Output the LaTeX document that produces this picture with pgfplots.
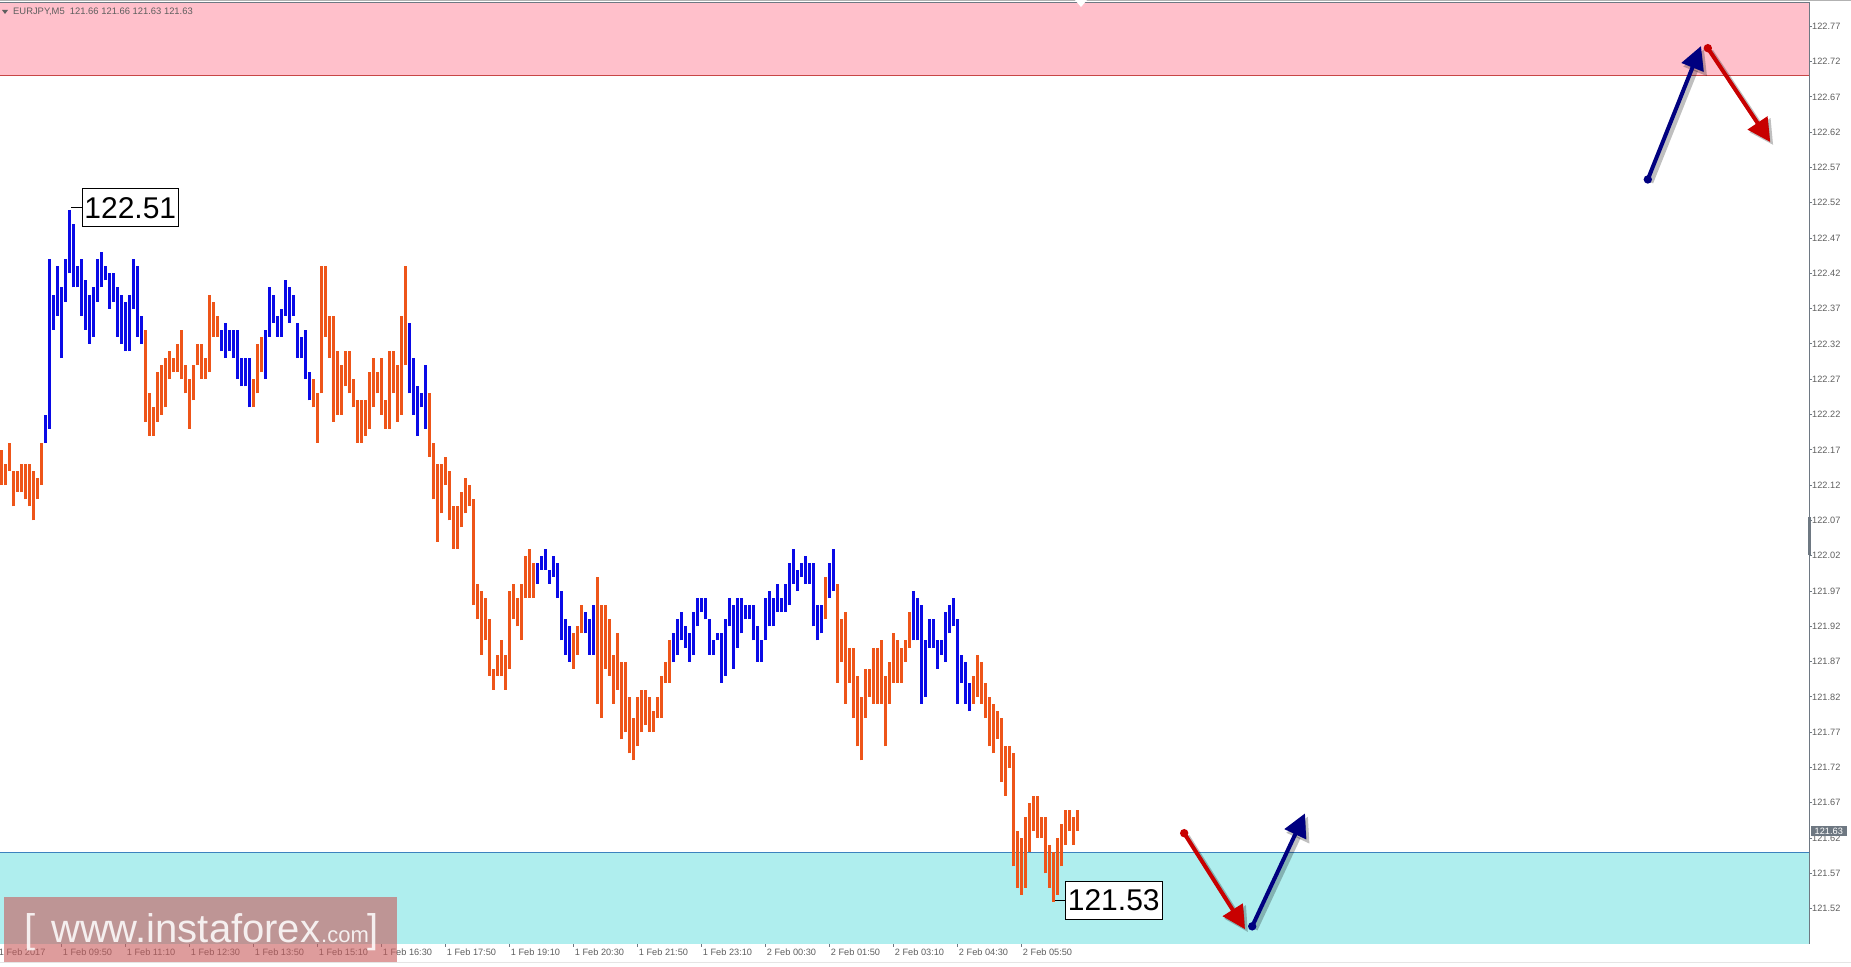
\documentclass[border=0pt]{standalone}
\usepackage{fontspec}
\setmainfont{Liberation Sans}
\usepackage{pgfplots}
\usepackage{pgfplotstable}
\pgfplotsset{compat=1.18}
\usetikzlibrary{arrows.meta}

\definecolor{barorange}{RGB}{238,85,25}
\definecolor{barblue}{RGB}{10,10,230}
\definecolor{zonepink}{RGB}{255,192,203}
\definecolor{zonecyan}{RGB}{175,238,238}
\definecolor{axisgray}{RGB}{110,120,130}
\definecolor{tickgray}{RGB}{95,95,95}
\definecolor{arrownavy}{RGB}{0,0,128}
\definecolor{arrowred}{RGB}{200,0,0}
\definecolor{wmred}{RGB}{200,90,90}
\definecolor{pinkline}{RGB}{200,70,70}
\definecolor{cyanline}{RGB}{60,130,190}

% bar index k (5-minute bars, k=-1 is 1 Feb 08:30), low, high
\pgfplotstableread{
k lo hi
0 122.12 122.17
1 122.12 122.15
2 122.14 122.18
3 122.09 122.14
4 122.11 122.14
5 122.11 122.15
6 122.10 122.15
7 122.09 122.15
8 122.07 122.14
9 122.10 122.13
10 122.12 122.18
36 122.21 122.34
37 122.19 122.25
38 122.19 122.23
39 122.21 122.28
40 122.22 122.29
41 122.23 122.30
42 122.27 122.31
43 122.28 122.30
44 122.28 122.32
45 122.27 122.34
46 122.25 122.29
47 122.20 122.27
48 122.24 122.29
49 122.29 122.32
50 122.27 122.32
51 122.27 122.30
52 122.28 122.39
53 122.33 122.38
54 122.33 122.36
63 122.23 122.27
64 122.25 122.32
65 122.28 122.33
78 122.23 122.27
79 122.18 122.25
80 122.25 122.43
81 122.33 122.43
82 122.30 122.36
83 122.21 122.36
84 122.22 122.31
85 122.22 122.29
86 122.26 122.31
87 122.25 122.31
88 122.23 122.27
89 122.18 122.24
90 122.18 122.24
91 122.19 122.24
92 122.20 122.28
93 122.23 122.30
94 122.25 122.28
95 122.22 122.30
96 122.20 122.24
97 122.20 122.31
98 122.25 122.31
99 122.21 122.29
100 122.22 122.36
101 122.29 122.43
107 122.16 122.25
108 122.10 122.18
109 122.04 122.15
110 122.08 122.15
111 122.12 122.16
112 122.07 122.14
113 122.03 122.09
114 122.03 122.09
115 122.06 122.11
116 122.08 122.13
117 122.09 122.12
118 121.95 122.10
119 121.93 121.98
120 121.88 121.97
121 121.90 121.96
122 121.85 121.93
123 121.83 121.86
124 121.85 121.88
125 121.85 121.90
126 121.83 121.88
127 121.86 121.97
128 121.93 121.98
129 121.92 121.96
130 121.90 121.98
131 121.96 122.02
132 121.96 122.03
133 121.96 122.01
143 121.86 121.91
144 121.88 121.92
145 121.91 121.95
149 121.81 121.99
150 121.79 121.95
151 121.86 121.95
152 121.85 121.93
153 121.81 121.88
154 121.83 121.91
155 121.76 121.87
156 121.77 121.87
157 121.74 121.82
158 121.73 121.79
159 121.75 121.82
160 121.77 121.83
161 121.78 121.83
162 121.77 121.82
163 121.77 121.80
164 121.79 121.82
165 121.79 121.85
166 121.84 121.87
167 121.84 121.90
206 121.93 121.99
209 121.84 121.98
210 121.87 121.93
211 121.81 121.94
212 121.84 121.89
213 121.79 121.89
214 121.75 121.85
215 121.73 121.82
216 121.79 121.86
217 121.82 121.86
218 121.81 121.89
219 121.81 121.89
220 121.81 121.90
221 121.75 121.85
222 121.81 121.87
223 121.84 121.91
224 121.84 121.90
225 121.84 121.89
226 121.87 121.90
227 121.89 121.94
243 121.81 121.85
244 121.82 121.88
245 121.81 121.87
246 121.79 121.84
247 121.75 121.82
248 121.74 121.81
249 121.76 121.80
250 121.70 121.79
251 121.68 121.75
252 121.72 121.75
253 121.58 121.74
254 121.55 121.63
255 121.54 121.62
256 121.55 121.65
257 121.60 121.67
258 121.63 121.68
259 121.62 121.68
260 121.62 121.65
261 121.57 121.65
262 121.55 121.61
263 121.53 121.60
264 121.54 121.62
265 121.58 121.64
266 121.61 121.66
267 121.63 121.66
268 121.61 121.65
269 121.63 121.66
}\orangebars

\pgfplotstableread{
k lo hi
11 122.18 122.22
12 122.20 122.44
13 122.34 122.39
14 122.36 122.43
15 122.30 122.40
16 122.38 122.44
17 122.42 122.51
18 122.40 122.49
19 122.40 122.43
20 122.36 122.44
21 122.34 122.41
22 122.32 122.39
23 122.33 122.40
24 122.38 122.44
25 122.40 122.45
26 122.41 122.43
27 122.37 122.42
28 122.38 122.42
29 122.33 122.40
30 122.32 122.39
31 122.31 122.38
32 122.31 122.39
33 122.37 122.44
34 122.33 122.43
35 122.32 122.36
55 122.31 122.34
56 122.30 122.35
57 122.31 122.34
58 122.30 122.34
59 122.27 122.34
60 122.26 122.30
61 122.26 122.30
62 122.23 122.30
66 122.27 122.34
67 122.33 122.40
68 122.35 122.39
69 122.33 122.36
70 122.33 122.37
71 122.36 122.41
72 122.35 122.40
73 122.36 122.39
74 122.30 122.35
75 122.30 122.33
76 122.27 122.34
77 122.24 122.28
102 122.25 122.35
103 122.22 122.30
104 122.19 122.26
105 122.23 122.25
106 122.20 122.29
134 121.98 122.01
135 122.00 122.02
136 122.00 122.03
137 121.98 122.00
138 121.99 122.02
139 121.96 122.01
140 121.90 121.97
141 121.88 121.93
142 121.87 121.92
146 121.91 121.94
147 121.88 121.93
148 121.88 121.95
168 121.87 121.91
169 121.88 121.93
170 121.90 121.94
171 121.89 121.92
172 121.87 121.91
173 121.88 121.94
174 121.92 121.96
175 121.94 121.96
176 121.93 121.96
177 121.88 121.93
178 121.88 121.90
179 121.90 121.91
180 121.84 121.91
181 121.85 121.93
182 121.92 121.96
183 121.86 121.95
184 121.89 121.96
185 121.91 121.96
186 121.93 121.95
187 121.93 121.95
188 121.90 121.95
189 121.87 121.92
190 121.87 121.90
191 121.90 121.96
192 121.92 121.97
193 121.92 121.96
194 121.94 121.98
195 121.94 121.96
196 121.94 121.98
197 121.95 122.01
198 121.98 122.03
199 121.97 122.00
200 121.99 122.01
201 121.98 122.02
202 121.98 122.01
203 121.92 122.01
204 121.90 121.95
205 121.91 121.95
207 121.96 122.01
208 121.97 122.03
228 121.90 121.97
229 121.90 121.96
230 121.81 121.95
231 121.82 121.90
232 121.89 121.93
233 121.89 121.93
234 121.86 121.90
235 121.88 121.90
236 121.87 121.94
237 121.91 121.95
238 121.92 121.96
239 121.81 121.93
240 121.84 121.88
241 121.81 121.87
242 121.80 121.84
}\bluebars

\begin{document}
\begin{tikzpicture}[x=1bp,y=1bp]
\useasboundingbox (0,0) rectangle (1851,966);
\fill[white] (0,0) rectangle (1851,966);

\begin{axis}[
  at={(0bp,22bp)}, anchor=south west,
  width=1809bp, height=941bp, scale only axis,
  xmin=-0.425, xmax=451.8, ymin=121.470, ymax=122.803,
  clip=false,
  axis x line*=bottom, axis y line*=right,
  axis line style={-, draw=axisgray, line width=1bp},
  tick align=outside, major tick length=3bp,
  tick style={draw=axisgray, line width=1bp},
  tick label style={font=\fontsize{9.2bp}{10bp}\selectfont, text=tickgray},
  ytick={121.52,121.57,121.62,121.67,121.72,121.77,121.82,121.87,121.92,121.97,122.02,122.07,122.12,122.17,122.22,122.27,122.32,122.37,122.42,122.47,122.52,122.57,122.62,122.67,122.72,122.77},
  yticklabels={121.52,121.57,121.62,121.67,121.72,121.77,121.82,121.87,121.92,121.97,122.02,122.07,122.12,122.17,122.22,122.27,122.32,122.37,122.42,122.47,122.52,122.57,122.62,122.67,122.72,122.77},
  yticklabel style={anchor=west, inner sep=0pt, xshift=0bp},
  xtick={15,31,47,63,79,95,111,127,143,159,175,191,207,223,239,255},
  xticklabels={1 Feb 09:50,1 Feb 11:10,1 Feb 12:30,1 Feb 13:50,1 Feb 15:10,1 Feb 16:30,1 Feb 17:50,1 Feb 19:10,1 Feb 20:30,1 Feb 21:50,1 Feb 23:10,2 Feb 00:30,2 Feb 01:50,2 Feb 03:10,2 Feb 04:30,2 Feb 05:50},
  xticklabel style={anchor=north west, inner sep=0pt, xshift=1bp, yshift=-2bp},
]
% target zones
\fill[zonepink] (axis cs:-0.425,122.70) rectangle (axis cs:451.8,122.803);
\draw[pinkline, line width=1bp] (axis cs:-0.425,122.70) -- (axis cs:451.8,122.70);
\fill[zonecyan] (axis cs:-0.425,121.470) rectangle (axis cs:451.8,121.60);
\draw[cyanline, line width=1bp] (axis cs:-0.425,121.60) -- (axis cs:451.8,121.60);

% price bars
\addplot[draw=none, mark=none, forget plot,
  error bars/.cd, y dir=plus, y explicit, error mark=none,
  error bar style={draw=barorange, line width=3bp}]
  table[x=k, y=lo, y error plus expr=\thisrow{hi}-\thisrow{lo}] {\orangebars};
\addplot[draw=none, mark=none, forget plot,
  error bars/.cd, y dir=plus, y explicit, error mark=none,
  error bar style={draw=barblue, line width=3bp}]
  table[x=k, y=lo, y error plus expr=\thisrow{hi}-\thisrow{lo}] {\bluebars};

% extreme labels
\draw[black, line width=0.8bp] (axis cs:17.4,122.513) -- (axis cs:20.08,122.513);
\node[draw=black, line width=0.8bp, fill=white, anchor=west, inner xsep=2bp, inner ysep=0pt,
  minimum height=38bp, font=\fontsize{30bp}{32bp}\selectfont] at (axis cs:20.08,122.513) {122.51};
\draw[black, line width=0.8bp] (axis cs:263.4,121.532) -- (axis cs:265.8,121.532);
\node[draw=black, line width=0.8bp, fill=white, anchor=west, inner xsep=2.5bp, inner ysep=0pt,
  minimum height=38bp, font=\fontsize{30bp}{32bp}\selectfont] at (axis cs:265.8,121.532) {121.53};

% forecast arrows: shadows
\begin{scope}[transform canvas={xshift=3bp,yshift=-3bp}]
\draw[black, opacity=0.25, line width=5bp, -{Triangle[length=24bp,width=24bp]}] (axis cs:411.5,122.553) -- (axis cs:424.8,122.742);
\draw[black, opacity=0.25, line width=5bp, -{Triangle[length=24bp,width=24bp]}] (axis cs:426.5,122.739) -- (axis cs:442.1,122.606);
\draw[black, opacity=0.25, line width=5bp, -{Triangle[length=24bp,width=24bp]}] (axis cs:295.6,121.627) -- (axis cs:310.8,121.491);
\draw[black, opacity=0.25, line width=5bp, -{Triangle[length=24bp,width=24bp]}] (axis cs:312.6,121.495) -- (axis cs:325.8,121.655);
\end{scope}
% forecast arrows
\draw[arrownavy, line width=4bp, -{Triangle[length=23bp,width=23bp]}] (axis cs:411.5,122.553) -- (axis cs:424.8,122.742);
\fill[arrownavy] (axis cs:411.5,122.553) circle (4.2bp);
\draw[arrowred, line width=4bp, -{Triangle[length=23bp,width=23bp]}] (axis cs:426.5,122.739) -- (axis cs:442.1,122.606);
\fill[arrowred] (axis cs:426.5,122.739) circle (4.2bp);
\draw[arrowred, line width=4bp, -{Triangle[length=23bp,width=23bp]}] (axis cs:295.6,121.627) -- (axis cs:310.8,121.491);
\fill[arrowred] (axis cs:295.6,121.627) circle (4.2bp);
\draw[arrownavy, line width=4bp, -{Triangle[length=23bp,width=23bp]}] (axis cs:312.6,121.495) -- (axis cs:325.8,121.655);
\fill[arrownavy] (axis cs:312.6,121.495) circle (4.2bp);

\coordinate (cp) at (axis cs:451.8,121.63);
\coordinate (firstlab) at (axis cs:-1,121.470);
\end{axis}

% first time label (its tick lies just left of the visible range)
\node[anchor=north west, inner sep=0pt, text=tickgray, font=\fontsize{9.2bp}{10bp}\selectfont]
  at ([xshift=1bp,yshift=-5bp]firstlab) {1 Feb 2017};

% frame details
\draw[gray!60, line width=1bp] (0,965.5) -- (1851,965.5);
\draw[axisgray, line width=1bp] (0,963.5) -- (1809.5,963.5);
\draw[gray!20, line width=1bp] (0,3.5) -- (1851,3.5);
\fill[white] (1075,966) -- (1087,966) -- (1081,959) -- cycle;
\fill[axisgray] (1807.5,411) rectangle (1810.5,449);

% current price marker
\node[fill=axisgray, text=white, anchor=west, inner xsep=4bp, inner ysep=1.8bp,
  font=\fontsize{9.2bp}{10bp}\selectfont] at ([xshift=1.5bp]cp) {121.63};

% header
\fill[tickgray] (2,956) -- (8,956) -- (5,952) -- cycle;
\node[anchor=west, inner sep=0pt, text=tickgray, font=\fontsize{9.4bp}{10bp}\selectfont]
  at (13,954) {EURJPY,M5\ \ 121.66 121.66 121.63 121.63};

% watermark
\fill[wmred, opacity=0.6] (3.5,4) rectangle (397,69);
\node[anchor=base west, inner sep=0pt, text=white, opacity=0.85, font=\fontsize{40bp}{44bp}\selectfont] at (24,24) {[};
\node[anchor=base west, inner sep=0pt, text=white, opacity=0.85, font=\fontsize{40bp}{44bp}\selectfont] at (51,24) {www.instaforex};
\node[anchor=base west, inner sep=0pt, text=white, opacity=0.85, font=\fontsize{22bp}{24bp}\selectfont] at (321,24) {.com};
\node[anchor=base west, inner sep=0pt, text=white, opacity=0.85, font=\fontsize{40bp}{44bp}\selectfont] at (367,24) {]};
\end{tikzpicture}
\end{document}
